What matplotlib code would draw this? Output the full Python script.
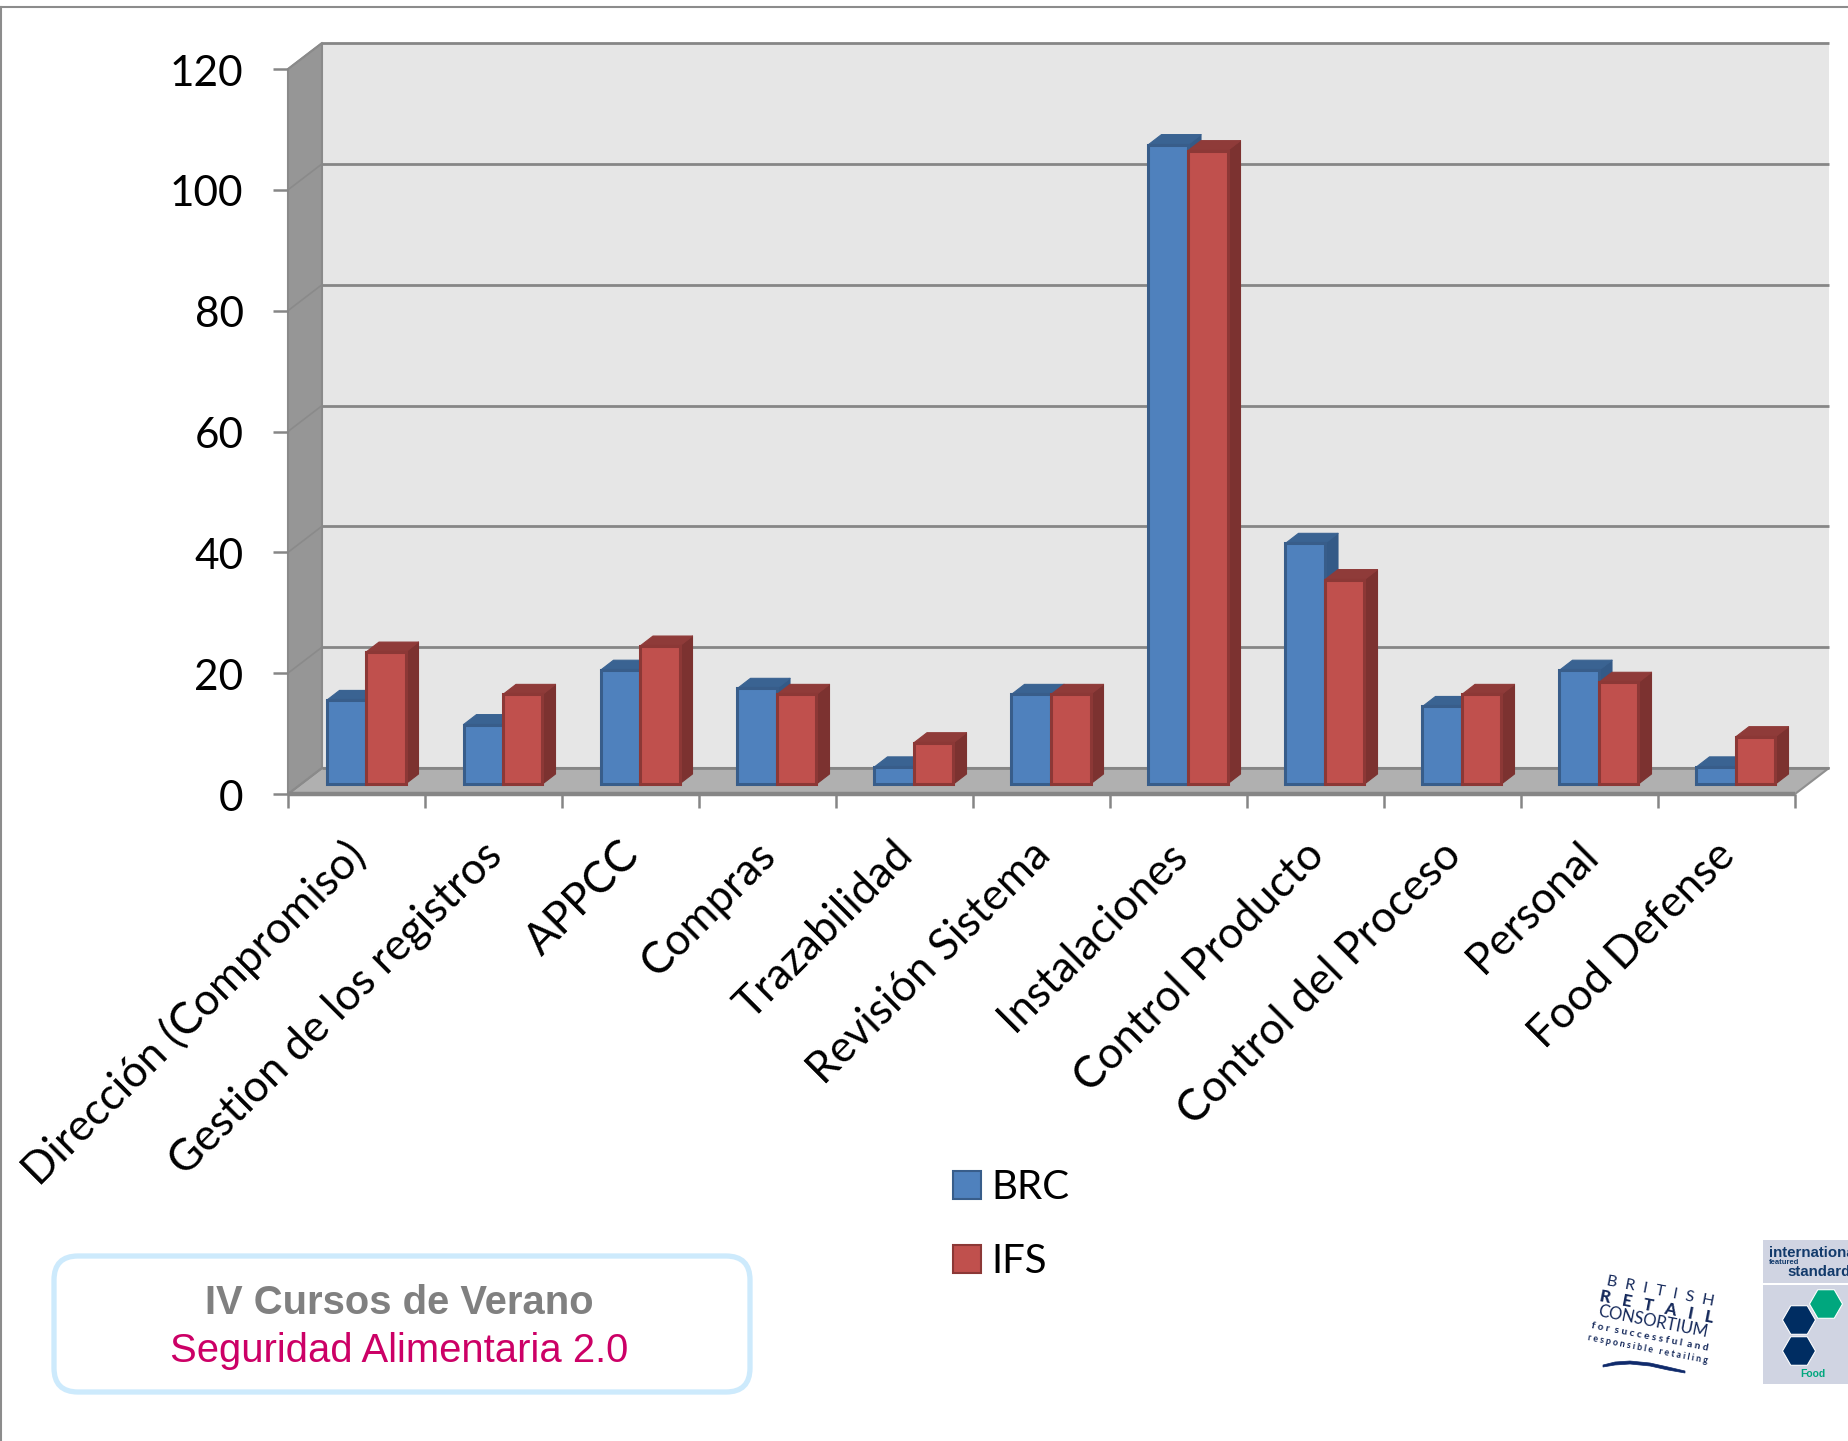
import math
import matplotlib
matplotlib.use("Agg")
import matplotlib.pyplot as plt
from matplotlib.patches import Polygon, Patch, Rectangle, FancyBboxPatch, RegularPolygon
from matplotlib.transforms import ScaledTranslation

categories = ["Dirección (Compromiso)", "Gestion de los registros", "APPCC", "Compras",
              "Trazabilidad", "Revisión Sistema", "Instalaciones", "Control Producto",
              "Control del Proceso", "Personal", "Food Defense"]
brc = [14, 10, 19, 16, 3, 15, 106, 40, 13, 19, 3]
ifs = [22, 15, 23, 15, 7, 15, 105, 34, 15, 17, 8]
yticks = [0, 20, 40, 60, 80, 100, 120]

W, H = 1849, 1441
FONT = "Lato"
fig = plt.figure(figsize=(W / 100, H / 100), dpi=100, facecolor="white")

# overlay in pixel coordinates for page furniture
pg = fig.add_axes([0, 0, 1, 1], zorder=0)
pg.set_xlim(0, W); pg.set_ylim(H, 0); pg.axis("off")

ax = fig.add_axes([288 / W, 1 - 794 / H, 1507 / W, 725 / H], zorder=2)
ax.patch.set_visible(False)
n = len(categories)
ax.set_xlim(0, n); ax.set_ylim(0, 120)
for s in ax.spines.values():
    s.set_visible(False)

pxx = 137.0; pxy = 725 / 120
DX, DY = 34 / pxx, 26 / pxy
GRID = "#868686"

def poly(pts, fc, ec=None, lw=0, z=1):
    ax.add_patch(Polygon(pts, closed=True, facecolor=fc, edgecolor=ec if ec else fc,
                         linewidth=lw, zorder=z, clip_on=False, joinstyle="round"))

# walls and floor
poly([(DX, DY), (n + DX, DY), (n + DX, 120 + DY), (DX, 120 + DY)], "#e6e6e6", z=1)
poly([(0, 0), (DX, DY), (DX, 120 + DY), (0, 120)], "#969696", "#8a8a8a", 1.5, z=1.2)
poly([(0, 0), (n, 0), (n + DX, DY), (DX, DY)], "#b0b0b0", "#8f8f8f", 1.5, z=1.1)
for v in yticks:
    ax.plot([DX, n + DX], [v + DY, v + DY], color=GRID, lw=2.0, zorder=1.3, clip_on=False,
            solid_capstyle="butt")
    ax.plot([0, DX], [v, v + DY], color="#8a8a8a", lw=1.2, zorder=1.3, clip_on=False)
ax.plot([0, n], [0, 0], color=GRID, lw=3.2, zorder=1.4, clip_on=False, solid_capstyle="butt")

# 3-D bars
BASE = 10 / pxy
OFF = 38.5 / pxx
BW = 39.5 / pxx
bdx, bdy = 13 / pxx, 10 / pxy

def bars(vals, offset, face, edge, side, top, z):
    xs = [i + offset for i in range(n)]
    for x, v in zip(xs, vals):
        t = v + 9 / pxy
        poly([(x + BW, BASE), (x + BW + bdx, BASE + bdy), (x + BW + bdx, t + bdy), (x + BW, t)], side, side, 0.8, z)
        poly([(x, t), (x + bdx, t + bdy), (x + BW + bdx, t + bdy), (x + BW, t)], top, top, 0.8, z)
    ax.bar(xs, [v + (9 - 10) / pxy for v in vals], BW, bottom=BASE, align="edge", color=face, edgecolor=edge,
           linewidth=2.2, zorder=z + 0.1, clip_on=False)

bars(brc, OFF, "#4f81bd", "#385d8a", "#345a87", "#3a6392", 3)
bars(ifs, OFF + BW, "#c0504d", "#8c3836", "#7c3230", "#8f3b39", 4)

# axes ticks
ax.set_yticks(yticks)
ax.set_yticklabels([str(v) for v in yticks], fontfamily=FONT, fontsize=30.5, color="black")
ax.tick_params(axis="y", length=11, width=1.8, color=GRID, pad=21)
shift = ScaledTranslation(0, -0.8 / 72, fig.dpi_scale_trans)
for lab in ax.get_yticklabels():
    lab.set_transform(lab.get_transform() + shift)
ax.set_xticks(range(n + 1))
ax.set_xticklabels([""] * (n + 1))
ax.tick_params(axis="x", length=10, width=1.8, color=GRID)
for i, c in enumerate(categories):
    ax.annotate(c, xy=(i + 0.5, 0), xytext=(-9, -29), textcoords="offset points",
                rotation=45, rotation_mode="anchor", ha="right", va="top",
                fontfamily=FONT, fontsize=31.5, color="black", annotation_clip=False)

leg = ax.legend(handles=[Patch(facecolor="#4f81bd", edgecolor="#385d8a", linewidth=1.5, label="BRC"),
                         Patch(facecolor="#c0504d", edgecolor="#8c3836", linewidth=1.5, label="IFS")],
                loc="upper left", bbox_to_anchor=(953 / W, 1 - 1169 / H), bbox_transform=fig.transFigure,
                frameon=False, borderpad=0, borderaxespad=0, handlelength=0.69, handleheight=0.69,
                handletextpad=0.27, labelspacing=0.93, prop={"family": FONT, "size": 29})

# page frame
pg.plot([1, 1], [7, H], color="#8c8c8c", lw=1.5)
pg.plot([1, W], [7, 7], color="#8c8c8c", lw=1.5)

# seminar box
pg.add_patch(FancyBboxPatch((54, 1256), 696, 136, boxstyle="round,pad=0,rounding_size=24",
                            facecolor="white", edgecolor="#cdeafc", linewidth=3.8))
pg.text(399, 1303, "IV Cursos de Verano", family="Liberation Sans", weight="bold", fontsize=28.8,
        color="#808080", ha="center", va="center")
pg.text(399, 1351, "Seguridad Alimentaria 2.0", family="Liberation Sans", fontsize=28.8,
        color="#cc0066", ha="center", va="center")

# BRC logo
navy = "#14285a"
for txt, cx, cy, fs, wt in [("B  R  I  T  I  S  H", 1660, 1291, 11.5, "normal"),
                            ("R   E   T   A   I   L", 1657, 1307, 12, "black"),
                            ("CONSORTIUM", 1653, 1322, 12, "normal"),
                            ("f o r  s u c c e s s f u l  a n d", 1650, 1337, 7.3, "bold"),
                            ("r e s p o n s i b l e   r e t a i l i n g", 1648, 1349, 6.4, "bold")]:
    pg.text(cx, cy, txt, family=FONT, fontsize=fs, weight=wt, color=navy, rotation=-11,
            rotation_mode="anchor", ha="center", va="center")
pg.add_patch(Polygon([(1603, 1365), (1615, 1362), (1630, 1361), (1650, 1363), (1668, 1367), (1685, 1371), (1685, 1373),
                      (1668, 1370), (1650, 1366), (1630, 1364), (1615, 1365), (1603, 1367)],
                     facecolor="#0f2a6b", edgecolor="#0f2a6b", lw=0.5))

# IFS logo
pg.add_patch(Rectangle((1763, 1240), 90, 43, facecolor="#d0d4e2", edgecolor="none"))
pg.add_patch(Rectangle((1763, 1285), 90, 99, facecolor="#d0d4e2", edgecolor="none"))
ifsblue = "#123a6b"
for txt, x, y, fs, wt in [("international", 1769, 1253, 10.8, "bold"),
                          ("featured", 1769, 1263, 5.5, "bold"),
                          ("standards", 1787, 1272, 10.8, "bold")]:
    pg.text(x, y, txt, family="Liberation Sans", fontsize=fs, weight=wt, color=ifsblue, ha="left", va="center")
for cx, cy, col in [(1826, 1304, "#00a77e"), (1799, 1320, "#002d62"), (1799, 1351, "#002d62")]:
    pg.add_patch(RegularPolygon((cx, cy), 6, radius=16.5, orientation=math.pi / 6, facecolor=col,
                                edgecolor="white", linewidth=0.8))
pg.text(1813, 1374, "Food", family="Liberation Sans", weight="bold", fontsize=7.5, color="#00a77e",
        ha="center", va="center")

fig.savefig("out.png", dpi=100, facecolor="white")
